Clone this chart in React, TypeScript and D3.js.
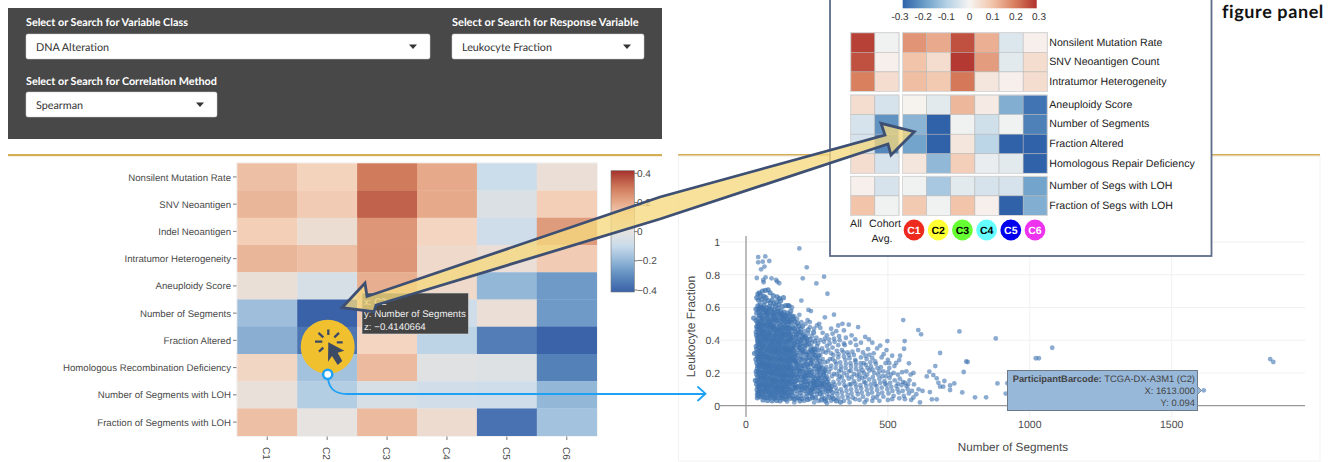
import React from "react";
import * as d3 from "d3";

const W = 1335, H = 462;

// ---- main heatmap ----
const rowLabels = ["Nonsilent Mutation Rate", "SNV Neoantigen", "Indel Neoantigen", "Intratumor Heterogeneity", "Aneuploidy Score", "Number of Segments", "Fraction Altered", "Homologous Recombination Deficiency", "Number of Segments with LOH", "Fraction of Segments with LOH"];
const colLabels = ["C1", "C2", "C3", "C4", "C5", "C6"];
const heatValues = [
  [0.15, 0.1, 0.3, 0.2, -0.09, 0.03],
  [0.17, 0.12, 0.34, 0.2, -0.04, 0.11],
  [0.11, 0.04, 0.24, 0.09, -0.08, 0.23],
  [0.17, 0.15, 0.24, 0.06, 0.03, 0.12],
  [0.025, -0.05, 0.19, 0.06, -0.2, -0.27],
  [-0.18, -0.414, 0.13, -0.08, 0.03, -0.27],
  [-0.22, -0.36, 0.09, -0.12, -0.34, -0.41],
  [0.08, -0.17, 0.16, -0.02, -0.03, -0.33],
  [0.02, -0.14, -0.05, -0.07, -0.08, -0.2],
  [0.15, 0, 0.16, 0.05, -0.37, -0.17],
];
const heatStops = [-0.414, -0.3, -0.2, -0.1, 0, 0.1, 0.2, 0.3, 0.418];
const heatColors = ["#3a62a9", "#5f8cbf", "#93b7d7", "#c8dbeb", "#e6e3e0", "#f4d3bd", "#e6aa8a", "#cf7b5c", "#a5322c"];
const barTicks = [-0.4, -0.2, 0, 0.2, 0.4];

// ---- inset heatmap ----
const insetLabels = [["Nonsilent Mutation Rate", "SNV Neoantigen Count", "Intratumor Heterogeneity"], ["Aneuploidy Score", "Number of Segments", "Fraction Altered", "Homologous Repair Deficiency"], ["Number of Segs with LOH", "Fraction of Segs with LOH"]];
const insetLeft = [[[0.28, -0.01], [0.26, 0.01], [0.2, 0.05]], [[0.05, -0.05], [-0.05, -0.22], [-0.05, -0.24], [0.05, -0.05]], [[0.01, -0.05], [0.1, -0.01]]];
const insetRight = [
  [[0.17, 0.14, 0.26, 0.13, -0.04, 0.01], [0.1, 0.05, 0.29, 0.16, -0.03, 0.05], [0.11, 0.09, 0.21, 0.03, 0.01, 0.05]],
  [[0.005, -0.03, 0.12, 0.02, -0.17, -0.27], [-0.16, -0.3, -0.01, -0.06, -0.01, -0.25], [-0.19, -0.3, 0.03, -0.09, -0.3, -0.3], [0.03, -0.15, 0.08, -0.02, -0.03, -0.3]],
  [[-0.01, -0.12, -0.03, -0.05, -0.05, -0.19], [0.09, -0.01, 0.1, 0.01, -0.3, -0.17]],
];
const insetStops = [-0.3, -0.2, -0.1, 0, 0.1, 0.2, 0.3];
const insetColors = ["#2f62a8", "#6c9fc8", "#b6d2e6", "#f6f4f2", "#f2c5ab", "#d9805f", "#b0312d"];
const insetTicks = ["-0.3", "-0.2", "-0.1", "0", "0.1", "0.2", "0.3"];
const badgeNames = ["C1", "C2", "C3", "C4", "C5", "C6"];
const badgeColors = ["#ee2a1e", "#ffff33", "#66ff33", "#66ffff", "#0000ee", "#ee33ee"];
const badgeText = ["#fff", "#000", "#000", "#000", "#fff", "#fff"];

// ---- scatter ----
const xTicks = [0, 500, 1000, 1500];
const yTicks = [0, 0.2, 0.4, 0.6, 0.8, 1];
const outliers: [number, number][] = [
  [188,.961],[43,.908],[68,.912],[43,.876],[59,.88],[82,.884],[65,.85],[53,.833],[214,.845],[200,.778],[275,.788],[248,.747],[38,.78],[69,.784],[61,.768],[62,.754],[90,.778],[106,.768],[110,.758],[117,.748],
  [287,.684],[195,.642],[310,.556],[220,.585],[229,.578],[278,.54],[217,.523],[225,.511],[554,.523],[607,.462],[617,.436],[752,.454],[880,.411],[498,.395],[559,.395],[557,.348],[473,.367],[684,.322],[543,.305],[540,.279],[574,.259],[529,.261],[523,.242],[776,.27],[781,.267],[667,.242],[767,.206],[646,.208],[637,.179],[660,.187],[672,.167],[699,.151],[678,.14],[734,.136],[886,.136],[719,.124],[684,.116],[695,.116],[719,.096],[762,.081],[807,.051],[846,.051],[655,.039],[672,.039],[613,.02],[622,.09],[648,.083],
  [1079,.354],[1021,.29],[1032,.29],[1847,.285],[1858,.267],[1613,.094],[921,.137],[915,.074],
];
const midBand: [number, number][] = [
  [362,.495],[395,.48],[340,.5],[325,.49],[345,.46],[318,.455],[300,.47],[305,.44],[285,.43],[270,.445],[258,.5],[250,.49],[262,.475],[240,.47],[225,.48],[210,.5],[195,.51],[180,.53],[188,.555],[170,.545],[155,.56],[162,.6],[175,.49],[192,.47],[205,.455],[218,.44],[232,.425],[248,.415],[262,.4],[275,.39],[292,.405],[310,.41],[328,.425],[352,.415],[372,.43],[385,.405],[405,.385],[420,.42],[433,.405],[445,.385],[388,.37],[368,.385],[345,.38],[325,.37],[305,.355],[285,.365],[268,.35],[250,.365],[232,.385],[215,.39],[198,.41],[182,.425],[168,.44],[172,.4],[190,.375],[208,.35],[226,.34],[245,.325],[262,.31],[282,.325],[300,.32],[320,.335],[338,.34],[358,.325],[375,.33],[395,.34],[412,.325],[430,.345],[450,.32],[462,.35],[478,.295],[445,.29],[425,.285],[405,.295],[385,.28],[365,.29],[345,.3],[325,.295],[305,.285],[288,.27],[270,.285],[252,.29],[235,.3],[218,.31],[200,.325],[185,.34],[170,.36],[160,.31],[178,.29],[195,.275],[212,.26],[230,.255],[248,.24],[265,.25],[283,.235],[300,.245],[318,.255],[335,.24],[352,.255],[370,.24],[388,.25],[405,.235],[422,.25],[440,.24],[458,.255],[475,.235],[492,.26],[505,.23],[470,.21],[452,.2],[435,.215],[415,.2],[398,.21],[380,.195],[362,.21],[345,.2],[328,.21],[310,.195],[292,.205],[275,.19],[258,.205],[240,.19],[222,.205],[205,.195],[188,.215],[172,.23],[165,.195],[182,.175],[200,.16],[218,.17],[236,.155],[254,.165],[272,.15],[290,.16],[308,.145],[326,.16],[344,.15],[362,.165],[380,.15],[398,.16],[416,.145],[434,.16],[452,.15],[470,.165],[488,.15],[506,.17],[524,.155],[542,.165],[560,.14],[576,.155],[592,.13],[565,.12],[548,.125],[530,.12],[512,.115],[495,.125],[478,.11],[460,.12],[442,.105],[424,.12],[406,.105],[388,.115],[370,.1],[352,.115],[334,.1],[316,.11],[298,.095],[280,.11],[262,.095],[244,.11],[226,.095],[208,.11],[190,.095],[172,.115],[158,.1],[178,.07],[196,.06],[214,.075],[232,.06],[250,.07],[268,.055],[286,.07],[304,.055],[322,.07],[340,.055],[358,.065],[376,.05],[394,.07],[412,.055],[430,.07],[448,.05],[466,.07],[484,.055],[502,.075],[520,.06],[538,.08],[556,.06],[574,.075],[590,.05],[600,.07],[470,.03],[500,.035],[540,.045],[445,.03],[425,.035],[385,.04],[365,.02],[345,.03],[325,.045],[300,.03],[285,.015],[255,.03],[240,.02],[225,.04],[205,.03],[185,.045],[170,.02],[145,.025],[165,.045],[118,.05],[120,.075],
  [330,.18],[365,.13],[400,.185],[420,.175],[440,.13],[480,.18],[500,.205],[520,.2],[535,.19],[550,.205],[565,.21],[580,.19],[590,.2],[455,.27],[500,.28],[515,.305],[485,.315],[495,.34],[505,.26],[415,.26],[435,.31],
];
const coreBand: [number, number][] = [
  [42,.682],[47,.69],[58,.7],[68,.705],[78,.708],[52,.672],[63,.668],[70,.66],[85,.69],[96,.672],[92,.645],[110,.665],[118,.655],[132,.66],[122,.64],[108,.635],[140,.612],[148,.612],[152,.61],[38,.66],[44,.645],[55,.648],[66,.635],[78,.642],[86,.628],[97,.622],[104,.61],[116,.618],[128,.605],
  [27,.535],[35,.59],[42,.61],[50,.618],[58,.6],[64,.612],[73,.598],[82,.606],[90,.592],[100,.586],[112,.594],[122,.58],[134,.572],[146,.566],[158,.578],
  [38,.565],[46,.572],[54,.556],[62,.57],[70,.552],[78,.566],[86,.55],[94,.562],[102,.545],[110,.558],[118,.542],[126,.552],[136,.538],[146,.53],[156,.525],
  [36,.52],[44,.535],[52,.515],[60,.528],[68,.51],[76,.525],[84,.508],[92,.522],[100,.505],[108,.518],[116,.502],[124,.515],[132,.5],[140,.51],[148,.495],[160,.505],
  [38,.485],[46,.498],[54,.478],[62,.492],[70,.472],[78,.486],[86,.47],[94,.482],[102,.466],[110,.48],[118,.464],[126,.476],[134,.46],[142,.472],[150,.458],[158,.47],
  [36,.45],[44,.46],[52,.44],[60,.452],[68,.436],[76,.448],[84,.432],[92,.445],[100,.428],[108,.442],[116,.426],[124,.438],[132,.422],[140,.435],[148,.42],[156,.432],[164,.418],
  [40,.41],[48,.422],[56,.402],[64,.416],[72,.398],[80,.41],[88,.394],[96,.406],[104,.39],[112,.402],[120,.386],[128,.398],[136,.382],[144,.395],[152,.38],[160,.392],[168,.376],
  [42,.375],[50,.385],[58,.365],[66,.378],[74,.36],[82,.372],[90,.356],[98,.368],[106,.352],[114,.365],[122,.348],[130,.36],[138,.344],[146,.356],[154,.342],[162,.352],[170,.335],
  [30,.32],[38,.345],[46,.335],[54,.348],[62,.33],[70,.342],[78,.324],[86,.336],[94,.32],[102,.332],[110,.316],[118,.328],[126,.312],[134,.324],[142,.308],[150,.32],[158,.332],[166,.3],
  [40,.3],[48,.31],[56,.292],[64,.305],[72,.288],[80,.3],[88,.284],[96,.296],[104,.28],[112,.292],[120,.276],[128,.288],[136,.272],[144,.284],[152,.268],[160,.28],[172,.262],
  [38,.262],[46,.272],[54,.254],[62,.266],[70,.25],[78,.262],[86,.246],[94,.258],[102,.242],[110,.254],[118,.238],[126,.25],[134,.234],[142,.246],[150,.23],[158,.242],[178,.24],
  [40,.225],[48,.236],[56,.218],[64,.23],[72,.212],[80,.224],[88,.208],[96,.22],[104,.204],[112,.216],[120,.2],[128,.212],[136,.196],[144,.208],[152,.192],[160,.204],
  [33,.155],[38,.19],[46,.2],[54,.182],[62,.194],[70,.176],[78,.188],[86,.172],[94,.184],[102,.168],[110,.18],[118,.164],[126,.176],[134,.16],[142,.172],[150,.156],[158,.168],[172,.15],
  [40,.15],[48,.162],[56,.144],[64,.156],[72,.14],[80,.152],[88,.136],[96,.148],[104,.132],[112,.144],[120,.128],[128,.14],[136,.124],[144,.136],[152,.12],[166,.13],
  [42,.115],[50,.125],[58,.108],[66,.12],[74,.104],[82,.116],[90,.1],[98,.112],[106,.096],[114,.108],[122,.092],[130,.104],[138,.088],[146,.1],
  [40,.07],[47,.088],[55,.072],[62,.09],[70,.068],[78,.085],[86,.064],[94,.08],[102,.06],[110,.078],[128,.06],[136,.078],[150,.06],[160,.078],
  [40,.048],[52,.055],[60,.035],[66,.05],[76,.032],[84,.048],[92,.03],[100,.045],[108,.032],[120,.03],[132,.042],[140,.04],
];
const coreFill: [number, number][] = [
  [43,.592],[51,.585],[67,.583],[76,.577],[93,.574],[105,.569],[127,.563],[141,.55],[163,.548],[181,.505],[48,.551],[57,.541],[73,.537],[89,.532],[99,.528],[113,.526],[131,.524],[153,.513],[171,.516],[186,.488],
  [41,.507],[49,.503],[65,.5],[81,.497],[97,.49],[121,.489],[137,.484],[147,.479],[165,.477],[183,.463],[199,.485],[39,.471],[47,.476],[59,.466],[74,.462],[89,.458],[106,.455],[123,.452],[139,.449],[155,.447],[173,.452],[187,.444],[203,.432],[219,.463],
  [37,.431],[45,.436],[63,.43],[79,.426],[96,.42],[109,.417],[126,.412],[143,.409],[159,.414],[176,.417],[193,.399],[209,.421],[226,.405],[238,.447],[41,.394],[53,.391],[69,.388],[85,.384],[101,.379],[117,.375],[133,.371],[149,.367],[165,.362],[181,.39],[197,.38],[213,.371],[229,.36],[243,.395],
  [36,.362],[47,.359],[61,.353],[77,.349],[93,.343],[109,.34],[125,.336],[141,.333],[157,.329],[175,.321],[191,.353],[205,.33],[221,.327],[237,.343],[255,.34],[39,.326],[51,.318],[67,.314],[83,.31],[99,.307],[115,.303],[131,.299],[147,.296],[163,.291],[181,.306],[197,.298],[213,.288],[229,.282],[244,.309],[261,.272],
  [35,.283],[45,.289],[59,.279],[75,.275],[91,.271],[107,.268],[123,.263],[139,.259],[155,.255],[169,.278],[187,.259],[203,.246],[219,.236],[234,.274],[251,.262],[269,.23],[41,.244],[52,.247],[67,.24],[83,.236],[99,.232],[115,.228],[131,.224],[147,.22],[163,.222],[179,.214],[195,.229],[211,.22],[227,.216],[243,.225],[259,.221],[277,.21],
  [36,.209],[44,.213],[59,.206],[75,.201],[91,.197],[107,.193],[123,.188],[139,.184],[155,.181],[171,.183],[187,.19],[203,.178],[219,.187],[235,.175],[251,.183],[267,.172],[283,.178],[42,.174],[51,.178],[67,.169],[83,.165],[99,.16],[115,.151],[131,.148],[147,.145],[163,.149],[179,.153],[195,.14],[211,.147],[227,.135],[243,.142],[259,.13],[275,.135],[293,.13],
  [37,.132],[46,.14],[61,.133],[77,.129],[93,.124],[109,.12],[125,.116],[141,.118],[157,.136],[173,.128],[189,.12],[205,.125],[221,.113],[237,.121],[253,.114],[269,.116],[285,.125],[301,.118],[39,.098],[47,.107],[63,.099],[79,.095],[95,.091],[111,.088],[127,.085],[143,.082],[159,.088],[175,.094],[191,.078],[207,.09],[223,.08],[239,.087],[255,.09],[271,.083],[289,.09],[305,.08],
  [43,.082],[52,.09],[68,.082],[84,.075],[100,.072],[116,.065],[132,.07],[148,.073],[164,.062],[180,.05],[197,.042],[213,.055],[229,.076],[245,.048],[261,.073],[277,.044],[293,.052],[309,.043],[44,.06],[57,.062],[73,.05],[89,.058],[105,.05],[124,.048],[142,.055],[156,.045],[172,.04],[190,.03],[217,.038],[235,.05],[265,.035],[280,.03],[318,.03],[333,.022],
  [57,.318],[72,.415],[88,.495],[104,.34],[116,.46],[129,.44],[75,.555],[61,.41],[94,.39],[83,.29],[111,.225],[68,.22],[47,.122],[63,.175],[92,.145],[128,.17],[148,.24],[106,.115],[79,.245],[122,.29],[140,.345],[152,.4],[100,.47],[55,.46],[70,.3],[84,.355],[117,.384],[136,.19],[154,.29],[167,.21],[125,.1],[71,.125],[89,.21],[103,.148],[58,.255],[45,.39],[49,.29],[174,.27],[182,.37],[198,.34],[214,.41],[231,.33],[247,.29],[192,.21],[208,.17],[226,.26],[240,.13],[258,.155],[175,.11],[197,.1],[216,.13],[231,.1],
  [50,.6],[61,.59],[83,.59],[113,.578],[72,.572],[97,.555],[120,.56],[135,.55],[152,.545],[56,.528],[80,.518],[104,.53],[128,.532],[145,.515],[167,.53],[43,.488],[56,.49],[72,.49],[90,.48],[112,.47],[130,.475],[152,.475],[170,.47],[192,.45],[53,.45],[66,.445],[82,.44],[104,.435],[120,.43],[136,.43],[150,.44],[178,.435],[198,.425],[43,.42],[58,.42],[76,.405],[92,.41],[108,.4],[124,.405],[140,.39],[156,.405],[172,.385],[188,.405],[208,.4],[220,.38],[48,.375],[63,.37],[86,.37],[102,.36],[118,.355],[134,.35],[150,.345],[166,.345],[186,.355],[204,.365],[242,.345],[52,.34],[74,.335],[90,.33],[106,.325],[122,.32],[138,.315],[154,.31],[170,.31],[192,.325],[212,.315],[236,.315],[43,.305],[60,.3],[76,.295],[92,.29],[108,.285],[124,.28],[140,.275],[156,.27],[176,.275],[192,.285],[208,.275],[222,.295],[256,.305],[50,.265],[66,.26],[82,.255],[98,.25],[114,.245],[130,.24],[146,.235],[162,.235],[182,.25],[198,.245],[216,.25],[238,.245],[256,.24],[45,.245],[60,.24],[75,.23],[92,.225],[108,.22],[124,.215],[140,.22],[156,.215],[184,.225],[200,.21],[214,.2],[232,.205],[252,.21],[272,.2],[50,.205],[66,.195],[82,.2],[98,.195],[114,.19],[130,.19],[146,.185],[162,.18],[178,.19],[194,.18],[210,.185],[228,.185],[244,.165],[262,.185],[280,.165],[52,.165],[70,.155],[88,.16],[106,.155],[122,.15],[138,.15],[154,.145],[170,.17],[186,.16],[204,.15],[222,.15],[238,.145],[252,.15],[268,.14],[286,.145],[55,.13],[72,.11],[88,.12],[104,.105],[118,.115],[134,.115],[150,.105],[166,.105],[182,.115],[198,.115],[214,.105],[236,.105],[250,.125],[266,.125],[282,.1],[296,.105],
];
const midFill: [number, number][] = [
  [254,.38],[278,.41],[295,.38],[312,.39],[330,.4],[348,.37],[272,.33],[290,.34],[308,.31],[326,.315],[344,.325],[362,.31],[380,.31],[278,.265],[296,.285],[314,.27],[332,.265],[350,.28],[368,.26],[386,.27],[404,.26],[421,.305],[438,.265],[262,.23],[280,.22],[298,.225],[316,.23],[334,.22],[351,.23],[369,.215],[387,.225],[411,.215],[428,.23],[446,.22],[463,.23],[484,.21],[303,.18],[320,.19],[338,.175],[356,.185],[373,.175],[391,.185],[409,.17],[427,.19],[447,.175],[465,.19],[493,.18],[510,.19],[312,.13],[329,.135],[347,.125],[370,.13],[385,.135],[403,.125],[421,.14],[455,.13],[473,.14],[490,.135],[508,.14],[535,.135],[553,.145],[571,.13],[320,.09],[338,.08],[354,.09],[372,.075],[390,.09],[408,.08],[426,.095],[444,.08],[462,.095],[480,.08],[498,.1],[516,.09],[534,.1],[552,.09],[570,.1],[585,.09],[608,.1],[360,.045],[400,.035],[418,.02],[460,.05],[515,.04],[560,.04],[582,.035],
];

const hoverRows = ["x: C2", "y: Number of Segments", "z: \u22120.4140664"];
const hoverScatter = ["TCGA-DX-A3M1 (C2)", "X: 1613.000", "Y: 0.094"];

const UI = "Lato, 'Noto Sans', sans-serif";
const PLOT = "'Liberation Sans', Arial, sans-serif";

const Dropdown = ({ x, y, w, text }: { x: number; y: number; w: number; text: string }) => (
  <g>
    <rect x={x} y={y} width={w} height={25} rx={2} fill="#fff" stroke="#ccc" strokeWidth={0.5} />
    <text x={x + 10} y={y + 16.5} fontFamily={UI} fontSize={10.8} fill="#333">{text}</text>
    <path d={`M${x + w - 21},${y + 10.5}h8l-4,4.5z`} fill="#333" />
  </g>
);

export default function App() {
  // main heatmap scales
  const hx = d3.scaleBand<string>().domain(colLabels).range([237.3, 596.7]);
  const hy = d3.scaleBand<string>().domain(rowLabels).range([163.3, 435.7]);
  const heatColor = d3.scaleLinear<string>().domain(heatStops).range(heatColors).clamp(true);
  const barY = d3.scaleLinear().domain([-0.4, 0.4]).range([290, 173.3]);
  const gradStops = d3.range(0, 41).map((i) => -0.414 + ((0.418 + 0.414) * i) / 40);

  // scatter scales
  const sx = d3.scaleLinear().domain([0, 1500]).range([746, 1171.7]);
  const sy = d3.scaleLinear().domain([0, 1]).range([405.7, 242]);
  const densePoints = [...coreBand, ...coreFill];
  const sparsePoints = [...midBand, ...midFill, ...outliers];

  // inset scales
  const insetColor = d3.scaleLinear<string>().domain(insetStops).range(insetColors);
  const insetBarX = d3.scaleLinear().domain([-0.3, 0.3]).range([902.7, 1036.7]);
  const insetTickX = d3.scalePoint<string>().domain(insetTicks).range([900, 1039]);
  const groupTops = [32.7, 95, 176.3];
  const rowH = 19.6;
  const leftX = d3.scaleBand<number>().domain([0, 1]).range([850.7, 899]);
  const rightX = d3.scaleBand<number>().domain([0, 1, 2, 3, 4, 5]).range([902.5, 1047.3]);
  const badgeX = d3.scalePoint<string>().domain(badgeNames).range([914, 1035]);

  return (
    <div style={{ position: "fixed", left: 0, top: 0 }}>
      <svg width={W} height={H} textRendering="geometricPrecision" style={{ display: "block", background: "#fff" }}>
        <defs>
          <linearGradient id="heatbar" x1="0" y1="1" x2="0" y2="0">
            {gradStops.map((v, i) => (
              <stop key={i} offset={i / 40} stopColor={heatColor(v)} />
            ))}
          </linearGradient>
          <linearGradient id="insetbar" x1="0" y1="0" x2="1" y2="0">
            {insetStops.map((v) => (
              <stop key={v} offset={(insetBarX(v) - 902.7) / 134} stopColor={insetColor(v)} />
            ))}
          </linearGradient>
        </defs>

        {/* control panel */}
        <rect x={8} y={8} width={654} height={131} fill="#484848" />
        <text x={26} y={26} fontFamily={UI} fontSize={10.8} fontWeight={700} fill="#fff">Select or Search for Variable Class</text>
        <text x={452} y={26} fontFamily={UI} fontSize={11} fontWeight={700} fill="#fff">Select or Search for Response Variable</text>
        <text x={26} y={85} fontFamily={UI} fontSize={10.8} fontWeight={700} fill="#fff">Select or Search for Correlation Method</text>
        <Dropdown x={26} y={34} w={404} text="DNA Alteration" />
        <Dropdown x={452} y={34} w={192} text="Leukocyte Fraction" />
        <Dropdown x={26} y={92} w={191} text="Spearman" />
        <rect x={8} y={154} width={654} height={2.2} fill="#d4ae55" />
        <rect x={678} y={154} width={642} height={2.2} fill="#d4ae55" />

        {/* main heatmap */}
        <rect x={236.8} y={162.8} width={360.4} height={273.4} fill="none" stroke="#eee" />
        {heatValues.map((row, r) =>
          row.map((v, c) => (
            <rect key={`${r}-${c}`} x={hx(colLabels[c])} y={hy(rowLabels[r])} width={hx.bandwidth() + 0.3} height={hy.bandwidth() + 0.3} fill={heatColor(v)} />
          ))
        )}
        {rowLabels.map((l) => {
          const y = hy(l)! + hy.bandwidth() / 2;
          return (
            <g key={l}>
              <line x1={233} x2={236.5} y1={y} y2={y} stroke="#555" strokeWidth={0.8} />
              <text x={231} y={y + 3.6} textAnchor="end" fontFamily={PLOT} fontSize={9.65} fill="#4a4a4a">{l}</text>
            </g>
          );
        })}
        {colLabels.map((l) => {
          const x = hx(l)! + hx.bandwidth() / 2;
          return (
            <g key={l}>
              <line x1={x} x2={x} y1={436.5} y2={440} stroke="#555" strokeWidth={0.8} />
              <text transform={`translate(${x - 4},447) rotate(90)`} fontFamily={PLOT} fontSize={10} fill="#4a4a4a">{l}</text>
            </g>
          );
        })}
        <rect x={611} y={170.7} width={23.3} height={121.3} fill="url(#heatbar)" stroke="#777" strokeWidth={0.6} />
        {barTicks.map((t) => (
          <g key={t}>
            <line x1={634.3} x2={637.5} y1={barY(t)} y2={barY(t)} stroke="#555" strokeWidth={0.8} />
            <text x={637} y={barY(t) + 3.6} fontFamily={PLOT} fontSize={10} fill="#4a4a4a">{d3.format("")(t).replace("-", "\u2212")}</text>
          </g>
        ))}

        {/* scatter plot */}
        <rect x={678.5} y={156} width={641.5} height={305} fill="none" stroke="#f3f3f3" />
        {yTicks.filter((t) => t > 0).map((t) => (
          <line key={t} x1={720} x2={1305} y1={sy(t)} y2={sy(t)} stroke="#f0f0f0" />
        ))}
        {xTicks.filter((t) => t > 0).map((t) => (
          <line key={t} x1={sx(t)} x2={sx(t)} y1={236} y2={417} stroke="#f0f0f0" />
        ))}
        <line x1={720} x2={1305} y1={sy(0)} y2={sy(0)} stroke="#999" strokeWidth={1.3} />
        <line x1={sx(0)} x2={sx(0)} y1={236} y2={417} stroke="#999" strokeWidth={1.3} />
        {yTicks.map((t) => (
          <text key={t} x={720} y={sy(t) + 3.8} textAnchor="end" fontFamily={PLOT} fontSize={10.5} fill="#4a4a4a">{t}</text>
        ))}
        {xTicks.map((t) => (
          <text key={t} x={sx(t)} y={428} textAnchor="middle" fontFamily={PLOT} fontSize={10.5} fill="#4a4a4a">{t}</text>
        ))}
        <text transform="translate(695,326.5) rotate(-90)" textAnchor="middle" fontFamily={PLOT} fontSize={12} fill="#4a4a4a">Leukocyte Fraction</text>
        <text x={1013} y={451} textAnchor="middle" fontFamily={PLOT} fontSize={11.7} fill="#4a4a4a">Number of Segments</text>
        {sparsePoints.map(([x, y], i) => (
          <circle key={i} cx={sx(x)} cy={sy(y)} r={2.4} fill="#3f73b0" fillOpacity={0.6} />
        ))}
        {densePoints.map(([x, y], i) => (
          <circle key={i} cx={sx(x)} cy={sy(y)} r={2.6} fill="#3f73b0" fillOpacity={0.72} />
        ))}
        <rect x={1007.5} y={370.5} width={190} height={40} fill="#98b8d9" stroke="#6d7a88" strokeWidth={1} />
        <path d={`M1197.5,386.5l4,4l-4,4`} fill="#98b8d9" stroke="#6d7a88" strokeWidth={0.8} />
        <text x={1195} y={381.5} textAnchor="end" fontFamily={PLOT} fontSize={9.4} fill="#444">
          <tspan fontWeight={700}>ParticipantBarcode: </tspan>{hoverScatter[0]}
        </text>
        <text x={1195} y={393.5} textAnchor="end" fontFamily={PLOT} fontSize={9.4} fill="#444">{hoverScatter[1]}</text>
        <text x={1195} y={405.5} textAnchor="end" fontFamily={PLOT} fontSize={9.4} fill="#444">{hoverScatter[2]}</text>

        {/* inset */}
        <rect x={830} y={-5} width={381.5} height={261} fill="#fff" stroke="#5d6c8a" strokeWidth={1.8} />
        <rect x={902.7} y={-3} width={134} height={11.3} fill="url(#insetbar)" />
        {insetTicks.map((t) => (
          <text key={t} x={insetTickX(t)} y={20} textAnchor="middle" fontFamily={PLOT} fontSize={10} fill="#333">{t}</text>
        ))}
        {insetLabels.map((labels, g) => {
          const top = groupTops[g];
          const h = labels.length * rowH;
          return (
            <g key={g}>
              {labels.map((l, r) => (
                <g key={l}>
                  {insetLeft[g][r].map((v, c) => (
                    <rect key={c} x={leftX(c)} y={top + r * rowH} width={leftX.bandwidth()} height={rowH} fill={insetColor(v)} stroke="#b5b5b5" strokeWidth={0.5} />
                  ))}
                  {insetRight[g][r].map((v, c) => (
                    <rect key={c} x={rightX(c)} y={top + r * rowH} width={rightX.bandwidth()} height={rowH} fill={insetColor(v)} stroke="#b5b5b5" strokeWidth={0.5} />
                  ))}
                  <text x={1049.3} y={top + r * rowH + 12.8} fontFamily={PLOT} fontSize={10.6} fill="#222">{l}</text>
                </g>
              ))}
              <rect x={850.7} y={top} width={48.3} height={h} fill="none" stroke="#d8d8d8" strokeWidth={1} />
              <rect x={902.5} y={top} width={144.8} height={h} fill="none" stroke="#d8d8d8" strokeWidth={1} />
            </g>
          );
        })}
        <text x={856} y={227} textAnchor="middle" fontFamily={PLOT} fontSize={10.6} fill="#222">All</text>
        <text x={885} y={227} textAnchor="middle" fontFamily={PLOT} fontSize={10.6} fill="#222">Cohort</text>
        <text x={882} y={241.5} textAnchor="middle" fontFamily={PLOT} fontSize={10.6} fill="#222">Avg.</text>
        {badgeNames.map((b, i) => (
          <g key={b}>
            <circle cx={badgeX(b)} cy={230} r={10.4} fill={badgeColors[i]} />
            <text x={badgeX(b)} y={234} textAnchor="middle" fontFamily={PLOT} fontSize={10.5} fontWeight={700} fill={badgeText[i]}>{b}</text>
          </g>
        ))}
        <text x={1222} y={18} fontFamily={UI} fontSize={18} letterSpacing={0.6} fontWeight={700} fill="#111">figure panel</text>

        {/* heatmap hover label */}
        <rect x={362} y={293} width={106.5} height={41} fill="#444" stroke="#ddd" strokeWidth={0.6} />
        {hoverRows.map((t, i) => (
          <text key={t} x={364} y={304.5 + i * 12.5} fontFamily={PLOT} fontSize={9.7} fill="#eee">{t}</text>
        ))}

        {/* blue connector */}
        <path d="M328,379Q330,394 347,394L705,394M698,387L705.5,393.7L698,400.5" fill="none" stroke="#1ea0f5" strokeWidth={1.8} strokeLinecap="round" />

        {/* click badge */}
        <circle cx={327.7} cy={346.7} r={27} fill="#f1c02e" />
        <path d="M328.3,329.5V335M315,341.7H322.3M318.5,332.8L323.3,337.3M339,332.8L334.3,337.3M336.8,342.3H342.7M319,351.7L323.3,347.7" stroke="#3d4a66" strokeWidth={2.3} fill="none" />
        <path d="M328.3,342.3L328,361.7L332,356L337.7,365L342.3,361L337.7,352.7L344.3,350.7Z" fill="#3d4a66" />
        <circle cx={327.7} cy={374.3} r={4.6} fill="#fff" stroke="#1ea0f5" strokeWidth={2.5} />

        {/* double headed block arrow */}
        <path
          d="M342,307.7L365,283L367,296.5L660,197L885,135L881,123.3L914.3,131.7L891,155L888,144L660,219L376,305L374,311.7Z"
          fill="#f5d97f"
          fillOpacity={0.78}
          stroke="#3d4f72"
          strokeWidth={2.8}
          strokeLinejoin="miter"
        />
      </svg>
    </div>
  );
}
